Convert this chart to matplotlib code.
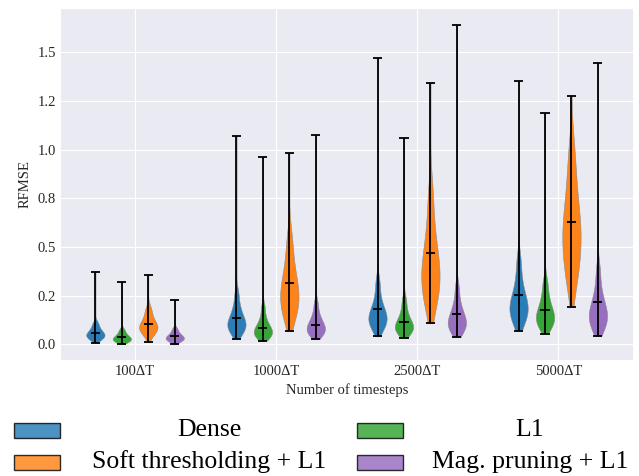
import matplotlib

matplotlib.use("Agg")
import matplotlib.pyplot as plt
import numpy as np
from matplotlib import mlab
from matplotlib.patches import Rectangle
from matplotlib.ticker import FormatStrFormatter

plt.style.use("seaborn-v0_8-darkgrid")
plt.rcParams["font.family"] = ["Liberation Serif", "DejaVu Serif"]

STEPS = ["100ΔT", "1000ΔT", "2500ΔT", "5000ΔT"]
METHODS = ["Dense", "L1", "Soft thresholding + L1", "Mag. pruning + L1"]
COLORS = ["#1f77b4", "#2ca02c", "#ff7f0e", "#9467bd"]

# extremes / means, one value per timestep group
dense_min = [0.008, 0.029, 0.041, 0.070]
dense_max = [0.373, 1.071, 1.472, 1.354]
dense_mean = [0.060, 0.134, 0.181, 0.252]
l1_min = [0.002, 0.019, 0.034, 0.054]
l1_max = [0.320, 0.962, 1.058, 1.190]
l1_mean = [0.039, 0.085, 0.116, 0.178]
soft_min = [0.013, 0.070, 0.108, 0.190]
soft_max = [0.354, 0.984, 1.344, 1.277]
soft_mean = [0.106, 0.315, 0.470, 0.630]
mag_min = [0.000, 0.026, 0.036, 0.043]
mag_max = [0.228, 1.077, 1.640, 1.443]
mag_mean = [0.041, 0.100, 0.156, 0.219]

# bulk of each distribution (approximate quantiles), used for the violin bodies
dense_body = [
    [0.02, 0.03, 0.038, 0.044, 0.05, 0.056, 0.064, 0.075, 0.09, 0.11],
    [0.05, 0.07, 0.085, 0.097, 0.108, 0.12, 0.14, 0.165, 0.2, 0.26],
    [0.07, 0.095, 0.11, 0.125, 0.14, 0.155, 0.175, 0.2, 0.25, 0.32],
    [0.1, 0.13, 0.155, 0.175, 0.195, 0.215, 0.24, 0.28, 0.34, 0.43],
]
l1_body = [
    [0.01, 0.016, 0.022, 0.027, 0.032, 0.038, 0.046, 0.058, 0.075],
    [0.03, 0.042, 0.052, 0.06, 0.068, 0.078, 0.092, 0.11, 0.14, 0.19],
    [0.05, 0.065, 0.076, 0.085, 0.095, 0.107, 0.122, 0.145, 0.18, 0.23],
    [0.08, 0.1, 0.117, 0.132, 0.147, 0.163, 0.185, 0.215, 0.26, 0.32],
]
soft_body = [
    [0.04, 0.06, 0.072, 0.082, 0.09, 0.1, 0.112, 0.13, 0.155, 0.185],
    [0.12, 0.16, 0.2, 0.23, 0.26, 0.29, 0.33, 0.38, 0.45, 0.55],
    [0.18, 0.24, 0.29, 0.33, 0.37, 0.41, 0.46, 0.53, 0.63, 0.78],
    [0.3, 0.38, 0.45, 0.51, 0.56, 0.61, 0.67, 0.75, 0.86, 1.0],
]
mag_body = [
    [0.012, 0.02, 0.026, 0.031, 0.036, 0.042, 0.05, 0.062, 0.08],
    [0.04, 0.055, 0.066, 0.075, 0.085, 0.097, 0.112, 0.13, 0.16, 0.21],
    [0.055, 0.075, 0.092, 0.105, 0.118, 0.133, 0.152, 0.18, 0.22, 0.29],
    [0.07, 0.095, 0.118, 0.137, 0.155, 0.175, 0.2, 0.235, 0.29, 0.38],
]

SERIES = [
    (dense_body, dense_min, dense_max, dense_mean),
    (l1_body, l1_min, l1_max, l1_mean),
    (soft_body, soft_min, soft_max, soft_mean),
    (mag_body, mag_min, mag_max, mag_mean),
]


def make_stats(body, vmin, vmax, vmean):
    kde = mlab.GaussianKDE(np.asarray(body, dtype=float), bw_method=0.55)
    coords = np.linspace(vmin, vmax, 300)
    return dict(coords=coords, vals=kde.evaluate(coords), mean=vmean,
                median=float(np.median(body)), min=vmin, max=vmax)


W, H = 639, 476
fig = plt.figure(figsize=(W / 100, H / 100), dpi=100)
ax = fig.add_axes([61 / W, 1 - 360 / H, 572 / W, 351 / H])

x = np.arange(len(STEPS))
step = 0.1875
for i, (bodies, mins, maxs, means) in enumerate(SERIES):
    stats = [make_stats(b, lo, hi, m) for b, lo, hi, m in zip(bodies, mins, maxs, means)]
    parts = ax.violin(stats, positions=x + (i - 1.5) * step, widths=0.13,
                      showmeans=True, showextrema=True)
    for pc in parts["bodies"]:
        pc.set_facecolor(COLORS[i])
        pc.set_edgecolor("#888888")
        pc.set_linewidth(0.4)
        pc.set_alpha(0.95)
    for key in ("cmeans", "cmins", "cmaxes", "cbars"):
        parts[key].set_color("black")
        parts[key].set_linewidth(1.3)

ax.set_xticks(x)
ax.set_xticklabels(STEPS)
ax.set_yticks(np.arange(0, 1.51, 0.25))
ax.yaxis.set_major_formatter(FormatStrFormatter("%.1f"))
ax.set_xlim(-0.525, 3.53)
ax.set_ylim(-0.081, 1.722)
ax.tick_params(labelsize=10.5, colors="#262626", length=0)
ax.set_xlabel("Number of timesteps", fontsize=10.5, color="#262626")
ax.set_ylabel("RFMSE", fontsize=10.5, color="#262626")

# legend below the plot, labels centred in their columns
legend_rows = [(METHODS[0], 0, 0), (METHODS[1], 1, 0), (METHODS[2], 0, 1), (METHODS[3], 1, 1)]
patch_x = [14, 357]
text_x = [209, 530]
row_y = [430, 462]
for label, col, row in legend_rows:
    color = COLORS[METHODS.index(label)]
    fig.add_artist(Rectangle((patch_x[col] / W, 1 - (row_y[row] + 7.5) / H), 46 / W, 15 / H,
                             transform=fig.transFigure, facecolor=color, alpha=0.8,
                             edgecolor="black", linewidth=1.0))
    fig.text(text_x[col] / W, 1 - row_y[row] / H, label, fontsize=18.5,
             ha="center", va="center", color="black")

fig.savefig("out.png", dpi=100)
